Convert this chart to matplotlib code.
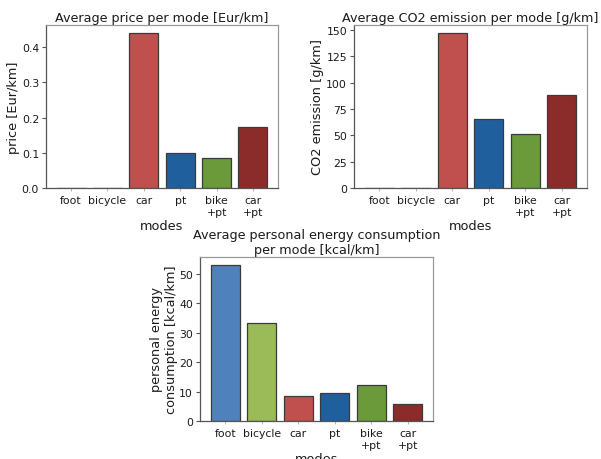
import matplotlib
matplotlib.use("Agg")
import matplotlib.pyplot as plt

modes = ["foot", "bicycle", "car", "pt", "bike\n+pt", "car\n+pt"]
price = [0.0, 0.0, 0.44, 0.100, 0.084, 0.173]
co2 = [0.0, 0.0, 147.2, 65.1, 51.2, 88.7]
energy = [53.1, 33.2, 8.4, 9.5, 12.2, 5.8]
colors = ["#4f81bd", "#9bbb59", "#c0504d", "#1f5f9e", "#6a9a3a", "#8b2c2a"]

TITLE_FS = 9.2
LABEL_FS = 9.3
TICK_FS = 7.8
TXT = "#1a1a1a"

fig = plt.figure(figsize=(6.01, 4.6), dpi=100)
W, H = 601, 460

def make_ax(x0, x1, ytop, ybot):
    return fig.add_axes([x0 / W, (H - ybot) / H, (x1 - x0) / W, (ybot - ytop) / H])

def style(ax, values, title, ylabel, lp=1.5):
    x = list(range(len(modes)))
    ax.bar(x, values, width=0.8, color=colors, edgecolor="#3a3a3a", linewidth=0.9)
    ax.set_xticks(x)
    ax.set_xticklabels(modes, fontsize=TICK_FS, color=TXT)
    ax.tick_params(axis="x", length=2.5, width=0.6, color="#aaaaaa", pad=2.5)
    ax.tick_params(axis="y", length=3, width=0.8, color="#555555", labelsize=TICK_FS, labelcolor=TXT, pad=2)
    ax.set_title(title, fontsize=TITLE_FS, color=TXT, pad=3)
    ax.set_ylabel(ylabel, fontsize=LABEL_FS, color=TXT, labelpad=lp)
    ax.set_xlabel("modes", fontsize=LABEL_FS, color=TXT, labelpad=2)
    for s in ["left", "bottom"]:
        ax.spines[s].set_color("#555555")
    for s in ["top", "right"]:
        ax.spines[s].set_color("#999999")
    for s in ax.spines.values():
        s.set_linewidth(0.9)

ax1 = make_ax(46, 278, 26, 189)
style(ax1, price, "Average price per mode [Eur/km]", "price [Eur/km]")
ax1.set_ylim(0, 0.4634)
ax1.set_yticks([0.0, 0.1, 0.2, 0.3, 0.4])

ax2 = make_ax(354, 587, 26, 189)
style(ax2, co2, "Average CO2 emission per mode [g/km]", "CO2 emission [g/km]")
ax2.set_ylim(0, 154.7)
ax2.set_yticks([0, 25, 50, 75, 100, 125, 150])

ax3 = make_ax(200, 433, 258, 422)
style(ax3, energy, "Average personal energy consumption\nper mode [kcal/km]",
      "personal energy\nconsumption [kcal/km]", lp=1)
ax3.set_ylim(0, 55.8)
ax3.set_yticks([0, 10, 20, 30, 40, 50])

fig.savefig("out.png", dpi=100)
